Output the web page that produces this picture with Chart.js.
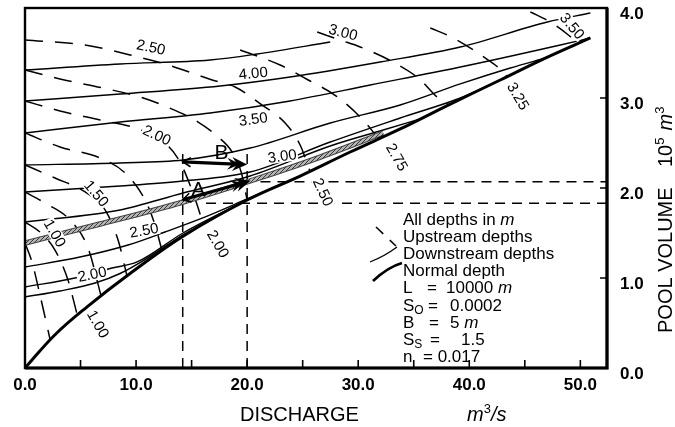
<!DOCTYPE html>
<html><head><meta charset="utf-8">
<script src="https://cdn.jsdelivr.net/npm/chart.js@4.4.1/dist/chart.umd.min.js"></script>
<style>html,body{margin:0;padding:0;background:#fff}</style>
</head><body>
<canvas id="c" width="675" height="427" style="width:675px;height:427px;display:block"></canvas>
<script>
// ---------------- DATA (discharge Q in m3/s, pool volume V in 10^5 m3) ----------------
const xTickValues = [0, 10, 20, 30, 40, 50];
const xTickLabels = ['0.0', '10.0', '20.0', '30.0', '40.0', '50.0'];
const yTickValues = [0, 1, 2, 3, 4];
const yTickLabels = ['0.0', '1.0', '2.0', '3.0', '4.0'];

// normal depth curve
const normalQ = [0, 2.70, 5.59, 9.46, 14.23, 20.0, 24.77, 29.28, 33.78, 38.29, 42.79, 46.85, 50.9];
const normalV = [0, 0.37, 0.68, 1.05, 1.465, 1.867, 2.133, 2.4, 2.656, 2.933, 3.2, 3.444, 3.667];

// downstream depth curves (solid)
const dn425Q = [0, 8.56, 16.67, 20.9, 27.48];
const dn425V = [3.311, 3.378, 3.422, 3.489, 3.622];
const dn400Q = [0, 8.56, 17.57, 23.87, 31.98, 39.19, 47.03, 50.9];
const dn400V = [2.967, 3.044, 3.133, 3.233, 3.4, 3.567, 3.844, 3.944];
const dn375Q = [0, 8.56, 16.67, 23.87, 31.08, 39.19, 48.2, 50.9];
const dn375V = [2.611, 2.733, 2.833, 2.967, 3.144, 3.344, 3.589, 3.667];
const dn350Q = [0, 8.56, 14.23, 20.27, 27.48, 33.78, 39.19, 43.69, 46.85];
const dn350V = [2.256, 2.278, 2.311, 2.444, 2.722, 2.922, 3.156, 3.333, 3.444];
const dn325Q = [0, 8.56, 14.23, 20.27, 27.48, 33.78, 39.19, 42.79];
const dn325V = [1.956, 2.022, 2.078, 2.178, 2.511, 2.778, 3.0, 3.2];
const dn300Q = [0, 8.56, 14.23, 20.27, 27.48, 32.25, 35.59];
const dn300V = [1.622, 1.756, 1.944, 2.133, 2.467, 2.644, 2.767];
const dn275Q = [0, 6.76, 14.23, 20.54, 26.58, 32.25];          // shaded curve
const dn275V = [1.389, 1.6, 1.844, 2.089, 2.344, 2.611];
const dn250Q = [0, 4.95, 9.28, 12.61, 15.77, 20.0, 24.77];
const dn250V = [1.122, 1.233, 1.367, 1.511, 1.656, 1.878, 2.133];
const dn225Q = [0, 4.5, 7.84, 10.09, 14.23, 20.0];
const dn225V = [0.9, 1.0, 1.111, 1.178, 1.5, 1.867];
const dn200Q = [0, 3.15, 6.31, 8.56, 11.26, 14.23, 17.12];
const dn200V = [0.789, 0.856, 0.944, 1.05, 1.24, 1.48, 1.67];

// upstream depth curves (dashed)
const up250Q = [0, 5.41, 9.46, 12.61, 16.85, 18.92, 21.35, 23.42, 24.77, 25.68];
const up250V = [3.644, 3.589, 3.478, 3.378, 3.2, 3.122, 2.922, 2.722, 2.478, 2.178];
const up225Q = [0, 3.15, 7.03, 10.36, 12.79, 15.59, 17.39, 18.65, 19.46, 20.0];
const up225V = [3.311, 3.211, 3.111, 3.011, 2.9, 2.733, 2.567, 2.4, 2.178, 1.867];
const up200Q = [0, 3.15, 6.76, 10.18, 12.61, 13.96, 14.86, 15.59, 16.04];
const up200V = [2.967, 2.856, 2.756, 2.656, 2.5, 2.289, 2.033, 1.778, 1.595];
const up175Q = [0, 3.15, 6.76, 9.01, 10.81, 11.71, 12.34];
const up175V = [2.611, 2.456, 2.333, 2.167, 1.867, 1.589, 1.3];
const up150Q = [0, 2.7, 5.41, 7.21, 8.38, 9.19];
const up150V = [2.256, 2.111, 1.956, 1.756, 1.422, 1.02];
const up125Q = [0, 1.8, 4.05, 5.68, 6.85];
const up125V = [1.956, 1.833, 1.644, 1.333, 0.8];
const up100Q = [0, 1.35, 2.7, 3.87, 4.68];
const up100V = [1.622, 1.511, 1.311, 0.978, 0.6];
const up075Q = [0, 0.63, 1.35, 2.25];
const up075V = [1.389, 1.178, 0.811, 0.322];
const up275Q = [19.37, 22.97, 25.5, 28.02, 30.27, 31.8];
const up275V = [3.533, 3.367, 3.2, 3.022, 2.778, 2.556];
const up300Q = [26.31, 28.38, 30.18, 32.79, 35.41, 37.3, 38.2];
const up300V = [3.733, 3.644, 3.567, 3.422, 3.222, 2.989, 2.922];
const up325Q = [36.49, 38.56, 41.17, 43.06, 43.42];
const up325V = [3.778, 3.667, 3.467, 3.289, 3.233];
const up350Q = [45.5, 47.3, 48.92, 49.73];
const up350V = [3.956, 3.844, 3.7, 3.611];

// reading guides (dashed)
const guide1Q = [14.2, 14.2]; const guide1V = [0, 2.39];
const guide2Q = [20.0, 20.0]; const guide2V = [0, 2.39];
const guide3Q = [16.3, 52.4]; const guide3V = [1.83, 1.83];
const guide4Q = [21.2, 52.4]; const guide4V = [2.07, 2.07];

// arrows A and B (from, to) in data units
const arrowA = [[14.2, 1.87], [20.3, 2.08]];
const arrowB = [[14.2, 2.29], [20.0, 2.26]];

// curve labels: text, Q, V, rotation (deg), white backing
const curveLabels = [
  ['2.50', 11.35, 3.567, 12, 1], ['4.00', 20.54, 3.278, -6, 1], ['3.50', 20.54, 2.767, -8, 1],
  ['3.00', 23.15, 2.356, -8, 1], ['2.00', 11.89, 2.589, 25, 1], ['1.50', 6.45, 1.94, 50, 1],
  ['1.00', 2.7, 1.5, 60, 1], ['2.50', 10.72, 1.533, -10, 1], ['2.00', 6.04, 1.044, -12, 1],
  ['1.00', 6.6, 0.49, 60, 0], ['2.00', 17.4, 1.38, 60, 0], ['2.50', 26.85, 1.956, 65, 1],
  ['2.75', 33.51, 2.344, 60, 1], ['3.25', 44.41, 3.022, 60, 0], ['3.50', 49.28, 3.8, 50, 1],
  ['3.00', 28.65, 3.733, 15, 1]
];
const letterLabels = [['A', 15.6, 1.98], ['B', 17.7, 2.39]];

// ---------------- CHART ----------------
const FONT = '"Liberation Sans", Arial, Helvetica, sans-serif';
function pts(Q, V) { return Q.map((q, i) => ({x: q, y: V[i]})); }
function curve(Q, V, o) {
  return Object.assign({data: pts(Q, V), showLine: true, pointRadius: 0, pointHoverRadius: 0,
    borderColor: '#000', borderWidth: 1.4, fill: false, tension: 0.4,
    cubicInterpolationMode: 'monotone', borderCapStyle: 'butt', borderJoinStyle: 'round'}, o || {});
}
function hatchPattern() {
  const c = document.createElement('canvas'); c.width = 4; c.height = 4;
  const g = c.getContext('2d');
  g.fillStyle = '#b4b4b4'; g.fillRect(0, 0, 4, 4);
  g.fillStyle = '#3a3a3a';
  g.fillRect(0, 0, 1, 1); g.fillRect(2, 2, 1, 1); g.fillRect(1, 3, 1, 1); g.fillRect(3, 1, 1, 1);
  return g.createPattern(c, 'repeat');
}
const ctx0 = document.getElementById('c').getContext('2d');

const solidSt = {borderWidth: 1.4, order: 2};
const dashSt = {borderWidth: 1.5, borderDash: [18, 12], order: 3};
const guideSt = {borderWidth: 1.5, borderDash: [10, 7], tension: 0, cubicInterpolationMode: 'default', order: 4};

const datasets = [
  curve(guide1Q, guide1V, guideSt), curve(guide2Q, guide2V, guideSt),
  curve(guide3Q, guide3V, guideSt), curve(guide4Q, guide4V, guideSt),
  curve(up250Q, up250V, dashSt), curve(up225Q, up225V, dashSt), curve(up200Q, up200V, dashSt),
  curve(up175Q, up175V, dashSt), curve(up150Q, up150V, dashSt), curve(up125Q, up125V, dashSt),
  curve(up100Q, up100V, dashSt), curve(up075Q, up075V, dashSt), curve(up275Q, up275V, dashSt),
  curve(up300Q, up300V, dashSt), curve(up325Q, up325V, dashSt), curve(up350Q, up350V, dashSt),
  curve(dn425Q, dn425V, solidSt), curve(dn400Q, dn400V, solidSt), curve(dn375Q, dn375V, solidSt),
  curve(dn350Q, dn350V, solidSt), curve(dn325Q, dn325V, solidSt), curve(dn300Q, dn300V, solidSt),
  curve(dn250Q, dn250V, solidSt), curve(dn225Q, dn225V, solidSt), curve(dn200Q, dn200V, solidSt),
  curve(dn275Q, dn275V, {borderWidth: 5.5, borderColor: '#444', order: 0.8}),
  curve(dn275Q, dn275V, {borderWidth: 3.4, borderColor: hatchPattern(), order: 0.6}),
  curve(normalQ, normalV, {borderWidth: 3, order: 0, cubicInterpolationMode: 'default', tension: 0.4})
];

function drawArrow(ctx, x0, y0, x1, y1) {
  const ang = Math.atan2(y1 - y0, x1 - x0), len = Math.hypot(x1 - x0, y1 - y0);
  ctx.save(); ctx.translate(x1, y1); ctx.rotate(ang);
  ctx.strokeStyle = '#000'; ctx.fillStyle = '#000';
  ctx.lineWidth = 3.2; ctx.beginPath(); ctx.moveTo(-len, 0); ctx.lineTo(-12, 0); ctx.stroke();
  ctx.beginPath(); ctx.moveTo(0, 0); ctx.lineTo(-15, -7); ctx.lineTo(-10, 0); ctx.lineTo(-15, 7); ctx.closePath(); ctx.fill();
  ctx.beginPath(); ctx.moveTo(-7, 0); ctx.lineTo(-20, -6); ctx.lineTo(-15, 0); ctx.lineTo(-20, 6); ctx.closePath(); ctx.fill();
  ctx.lineWidth = 1.6; ctx.beginPath(); ctx.moveTo(-len + 8, -4.5); ctx.lineTo(-len, 0); ctx.lineTo(-len + 8, 4.5); ctx.stroke();
  ctx.restore();
}
function run(ctx, x, y, parts) {
  for (const p of parts) {
    ctx.font = p[1]; ctx.fillText(p[0], x, y + (p[2] || 0));
    x += ctx.measureText(p[0]).width;
  }
  return x;
}

const overlay = {
  id: 'overlay',
  afterDatasetsDraw(chart) {
    const {ctx, chartArea: a, scales: {x, y}} = chart;
    ctx.save();
    for (const ar of [arrowA, arrowB]) {
      drawArrow(ctx, x.getPixelForValue(ar[0][0]), y.getPixelForValue(ar[0][1]),
                     x.getPixelForValue(ar[1][0]), y.getPixelForValue(ar[1][1]));
    }
    ctx.font = '15px ' + FONT; ctx.textAlign = 'center'; ctx.textBaseline = 'middle';
    for (const l of curveLabels) {
      const px = x.getPixelForValue(l[1]), py = y.getPixelForValue(l[2]);
      ctx.save(); ctx.translate(px, py); ctx.rotate(l[3] * Math.PI / 180);
      const w = ctx.measureText(l[0]).width;
      if (l[4]) { ctx.fillStyle = '#fff'; ctx.fillRect(-w / 2 - 1, -6.5, w + 2, 13); }
      ctx.fillStyle = '#000'; ctx.fillText(l[0], 0, 1);
      ctx.restore();
    }
    ctx.font = '21px ' + FONT;
    for (const l of letterLabels) {
      ctx.fillText(l[0], x.getPixelForValue(l[1]), y.getPixelForValue(l[2]));
    }
    // frame
    ctx.strokeStyle = '#000'; ctx.lineWidth = 2.4;
    ctx.strokeRect(a.left, a.top, a.right - a.left, a.bottom - a.top);
    ctx.lineWidth = 3.2; ctx.beginPath();
    ctx.moveTo(a.left, a.bottom); ctx.lineTo(a.right, a.bottom); ctx.lineTo(a.right, a.top); ctx.stroke();
    // inward ticks
    ctx.lineWidth = 1.6; ctx.beginPath();
    for (const t of x.ticks) {
      if (t.value <= 0) continue;
      const px = x.getPixelForValue(t.value);
      ctx.moveTo(px, a.bottom); ctx.lineTo(px, a.bottom - 8);
    }
    for (const t of y.ticks) {
      if (t.value <= 0 || t.value >= 4) continue;
      const py = y.getPixelForValue(t.value);
      ctx.moveTo(a.right, py); ctx.lineTo(a.right - 7, py);
    }
    ctx.stroke();
    // legend / parameter block
    ctx.fillStyle = '#000'; ctx.textAlign = 'left'; ctx.textBaseline = 'alphabetic';
    const R = '17px ' + FONT, I = 'italic 17px ' + FONT, S = '12px ' + FONT;
    const lx = 403, b0 = 225, st = 17.1;
    run(ctx, lx, b0, [['All depths in ', R], ['m', I]]);
    run(ctx, lx, b0 + st, [['Upstream depths', R]]);
    run(ctx, lx, b0 + 2 * st, [['Downstream depths', R]]);
    run(ctx, lx, b0 + 3 * st, [['Normal depth', R]]);
    run(ctx, lx, b0 + 4 * st, [['L', R]]); run(ctx, 427, b0 + 4 * st, [['=', R]]);
    run(ctx, 446, b0 + 4 * st, [['10000 ', R], ['m', I]]);
    run(ctx, lx, b0 + 5 * st, [['S', R], ['O', S, 3]]); run(ctx, 428, b0 + 5 * st, [['=', R]]);
    run(ctx, 450, b0 + 5 * st, [['0.0002', R]]);
    run(ctx, lx, b0 + 6 * st, [['B', R]]); run(ctx, 429, b0 + 6 * st, [['=', R]]);
    run(ctx, 450, b0 + 6 * st, [['5 ', R], ['m', I]]);
    run(ctx, lx, b0 + 7 * st, [['S', R], ['S', S, 3]]); run(ctx, 430, b0 + 7 * st, [['=', R]]);
    run(ctx, 461, b0 + 7 * st, [['1.5', R]]);
    run(ctx, lx, b0 + 8 * st, [['n', R]]); run(ctx, 423, b0 + 8 * st, [['= 0.017', R]]);
    // legend symbols
    ctx.strokeStyle = '#000';
    ctx.lineWidth = 1.5; ctx.setLineDash([10, 9]);
    ctx.beginPath(); ctx.moveTo(376, 227); ctx.lineTo(396, 246); ctx.stroke();
    ctx.setLineDash([]);
    ctx.lineWidth = 1.3; ctx.beginPath(); ctx.moveTo(370, 262); ctx.quadraticCurveTo(385, 256, 397, 247); ctx.stroke();
    ctx.lineWidth = 2.8; ctx.beginPath(); ctx.moveTo(373, 281); ctx.quadraticCurveTo(388, 267, 402, 263); ctx.stroke();
    // axis titles
    const T = '20px ' + FONT, TI = 'italic 20px ' + FONT, TS = '13px ' + FONT;
    run(ctx, 240, 421, [['DISCHARGE', T]]);
    run(ctx, 467, 421, [['m', TI], ['3', TS, -8], ['/s', TI]]);
    ctx.save(); ctx.translate(672, 333); ctx.rotate(-Math.PI / 2);
    run(ctx, 0, 0, [['POOL VOLUME', T]]);
    const xx = run(ctx, 166, 0, [['10', T], ['5', TS, -8]]);
    run(ctx, xx + 7, 0, [['m', TI], ['3', TS, -8]]);
    ctx.restore();
    ctx.restore();
  }
};

new Chart(ctx0, {
  type: 'scatter',
  data: {datasets},
  options: {
    responsive: false, animation: false, devicePixelRatio: 1, events: [],
    layout: {padding: {left: 25, top: 8, right: 0, bottom: 0}},
    plugins: {legend: {display: false}, tooltip: {enabled: false}},
    scales: {
      x: {
        type: 'linear', min: 0, max: 52.4,
        grid: {display: false, drawTicks: false}, border: {display: false},
        ticks: {stepSize: 5, includeBounds: false, autoSkip: false, maxRotation: 0, padding: 7,
          color: '#000', font: {family: FONT, size: 17, weight: 'bold'},
          callback: v => { const i = xTickValues.indexOf(v); return i >= 0 ? xTickLabels[i] : ''; }},
        afterFit: s => { s.height = 59; s.paddingLeft = 0; s.paddingRight = 0; }
      },
      y: {
        type: 'linear', position: 'right', min: 0, max: 4,
        grid: {display: false, drawTicks: false}, border: {display: false},
        ticks: {stepSize: 1, autoSkip: false, padding: 13, labelOffset: 6,
          color: '#000', font: {family: FONT, size: 17, weight: 'bold'},
          callback: v => { const i = yTickValues.indexOf(v); return i >= 0 ? yTickLabels[i] : ''; }},
        afterFit: s => { s.width = 68; s.paddingTop = 0; s.paddingBottom = 0; }
      }
    }
  },
  plugins: [overlay]
});
</script>
</body></html>
